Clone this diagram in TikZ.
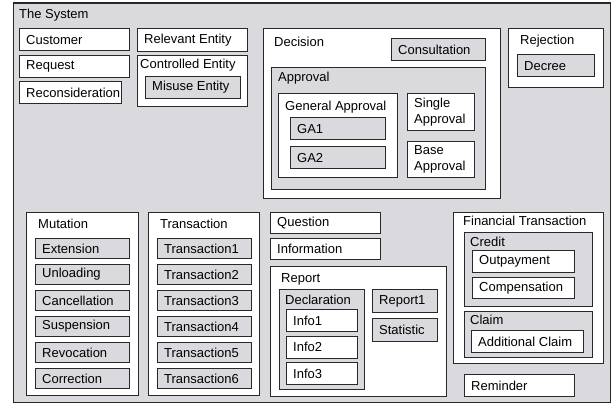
\documentclass[tikz,border=0pt]{standalone}
\usepackage{fontspec}
\setmainfont{Liberation Sans}
\definecolor{boxgrey}{RGB}{217,217,222}
\definecolor{boxline}{RGB}{40,40,40}
\tikzset{
	box/.style={draw=boxline, line width=1.2pt, rectangle, inner sep=0pt, anchor=north west},
	whitebox/.style={box, fill=white},
	greybox/.style={box, fill=boxgrey},
	boxtext/.style={anchor=west, inner sep=0pt, align=left, font=\fontsize{13}{16}\selectfont}
}
% a box with its title in the top left corner: name, x, y, width, height, style, title, dx, dy
\newcommand*{\groupBox}[9]{
	\node[#6, minimum width=#4pt, minimum height=#5pt] (#1) at (#2,#3) {};
	\node[boxtext] (#1-title) at ([xshift=#8pt,yshift=-#9pt]#1.north west) {#7};
}
% a plain box with its text at the left: name, x, y, width, height, style, text
\newcommand*{\leafBox}[7]{
	\node[#6, minimum width=#4pt, minimum height=#5pt] (#1) at (#2,#3) {};
	\node[boxtext] (#1-text) at ([xshift=7pt]#1.west) {#7};
}
\begin{document}
\begin{tikzpicture}[x=1pt,y=-1pt]
		\useasboundingbox (0,0) rectangle (613,404);
		
		%the whole system
		\groupBox{sys}{13}{2.5}{597}{399}{greybox}{The System}{6}{12.5}
		
		%top left
		\leafBox{customer}{19}{28}{110}{22}{whitebox}{Customer}
		\leafBox{request}{19}{55}{110}{22}{whitebox}{Request}
		\leafBox{recons}{19}{81}{102}{22}{whitebox}{Reconsideration}
		\leafBox{relevant}{137}{28}{110}{23}{whitebox}{Relevant Entity}
		\groupBox{controlled}{137}{55}{110}{51}{whitebox}{Controlled Entity}{3}{10}
		\leafBox{misuse}{145}{76}{95}{22}{greybox}{Misuse Entity}
		
		%decision
		\groupBox{decision}{263}{28}{237}{170}{whitebox}{Decision}{11}{14}
		\leafBox{consult}{391}{38}{94}{22}{greybox}{Consultation}
		\groupBox{approval}{271}{67}{214}{122}{greybox}{Approval}{7}{11}
		\groupBox{genappr}{278}{93}{119}{84}{whitebox}{General Approval}{7}{14}
		\leafBox{ga1}{290}{117}{95}{22}{greybox}{GA1}
		\leafBox{ga2}{290}{146}{95}{22}{greybox}{GA2}
		\leafBox{single}{407}{93}{67}{37}{whitebox}{Single\\Approval}
		\leafBox{base}{407}{141}{67}{36}{whitebox}{Base\\Approval}
		
		%rejection
		\groupBox{rejection}{508}{28}{95}{59}{whitebox}{Rejection}{12}{13}
		\leafBox{decree}{517}{54}{77}{22}{greybox}{Decree}
		
		%mutation and transaction columns
		\groupBox{mutation}{26}{212}{112}{183}{whitebox}{Mutation}{12}{12}
		\foreach \name [count=\i from 0] in {Extension,Unloading,Cancellation,Suspension,Revocation,Correction}
		{
			\leafBox{mut\i}{35}{{238+\i*26}}{94}{20}{greybox}{\name}
		}
		\groupBox{transaction}{148}{212}{111}{183}{whitebox}{Transaction}{12}{12}
		\foreach \i in {1,...,6}
		{
			\leafBox{trans\i}{157}{{238+(\i-1)*26}}{94}{20}{greybox}{Transaction\i}
		}
		
		%question, information, report
		\leafBox{question}{270}{212}{110}{21}{whitebox}{Question}
		\leafBox{information}{270}{238}{110}{21}{whitebox}{Information}
		\groupBox{report}{270}{266}{176}{130}{whitebox}{Report}{11}{13}
		\groupBox{declaration}{279}{289}{85}{100}{greybox}{Declaration}{6}{11}
		\foreach \i in {1,2,3}
		{
			\leafBox{info\i}{286}{{309+(\i-1)*26.5}}{71}{22}{whitebox}{Info\i}
		}
		\leafBox{report1}{372}{289}{65}{23}{greybox}{Report1}
		\leafBox{statistic}{372}{318}{65}{23}{greybox}{Statistic}
		
		%financial transaction
		\groupBox{fintrans}{453}{212}{150}{151}{whitebox}{Financial Transaction}{10}{9}
		\groupBox{credit}{464}{232}{128}{74}{greybox}{Credit}{6}{10}
		\leafBox{outpay}{472}{250}{102}{22}{whitebox}{Outpayment}
		\leafBox{compens}{472}{277}{102}{21}{whitebox}{Compensation}
		\groupBox{claim}{464}{311}{128}{46}{greybox}{Claim}{6}{9}
		\leafBox{addclaim}{471}{330}{112}{22}{whitebox}{Additional Claim}
		\leafBox{reminder}{464}{374}{110}{22}{whitebox}{Reminder}
		
	\end{tikzpicture}
\end{document}
